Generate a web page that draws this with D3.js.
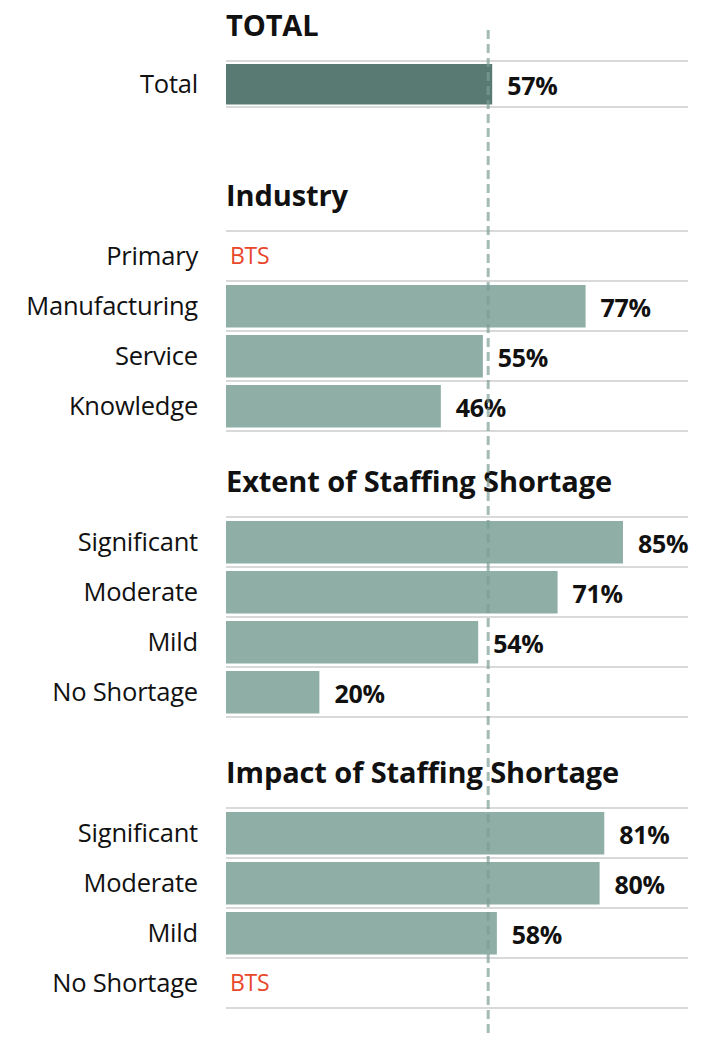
<!DOCTYPE html>
<html>
<head>
<meta charset="utf-8">
<script src="https://cdn.jsdelivr.net/npm/d3@7"></script>
<style>
  html, body { margin: 0; padding: 0; background: #fff; }
  svg { display: block; font-family: "Open Sans", "Noto Sans", sans-serif; }
</style>
</head>
<body>
<svg id="chart" width="705" height="1038"></svg>
<script>
// data
const totalCats = ['Total']
const totalVals = [57]

const industryCats = ['Primary', 'Manufacturing', 'Service', 'Knowledge']
const industryVals = [null, 77, 55, 46]

const extentCats = ['Significant', 'Moderate', 'Mild', 'No Shortage']
const extentVals = [85, 71, 54, 20]

const impactCats = ['Significant', 'Moderate', 'Mild', 'No Shortage']
const impactVals = [81, 80, 58, null]

const sectionTitles = ['TOTAL', 'Industry', 'Extent of Staffing Shortage', 'Impact of Staffing Shortage']
const benchmark = 57 // dashed line = total

const sections = [
  {title: sectionTitles[0], cats: totalCats, vals: totalVals, top: 61, rowH: 46, dark: true},
  {title: sectionTitles[1], cats: industryCats, vals: industryVals, top: 231, rowH: 50},
  {title: sectionTitles[2], cats: extentCats, vals: extentVals, top: 517, rowH: 50},
  {title: sectionTitles[3], cats: impactCats, vals: impactVals, top: 808, rowH: 50}
]

const svg = d3.select('#chart')
const x = d3.scaleLinear().domain([0, 100]).range([226, 693])
const gridRight = 688

sections.forEach(sec => {
    const y = d3.scaleBand()
        .domain(sec.cats)
        .range([sec.top, sec.top + sec.rowH * sec.cats.length])
        .paddingInner(0).paddingOuter(0)
    const g = svg.append('g')

    // title
    g.append('text')
        .attr('x', 226)
        .attr('y', sec.top - 25)
        .attr('font-size', 29)
        .attr('font-weight', 700)
        .attr('fill', '#111')
        .attr('letter-spacing', '-0.1')
        .text(sec.title)

    // gridlines
    const edges = sec.cats.map(c => y(c)).concat([y.range()[1]])
    g.selectAll('.grid').data(edges).enter().append('line')
        .attr('x1', 226).attr('x2', gridRight)
        .attr('y1', d => d).attr('y2', d => d)
        .attr('stroke', '#d9d9d9').attr('stroke-width', 2)

    const rows = sec.cats.map((c, i) => ({cat: c, val: sec.vals[i]}))
    const inset = sec.dark ? 3 : 4

    g.selectAll('.bar').data(rows.filter(r => r.val != null)).enter().append('rect')
        .attr('x', x(0))
        .attr('y', d => y(d.cat) + inset)
        .attr('width', d => x(d.val) - x(0))
        .attr('height', y.bandwidth() - inset * 2 + 0.5)
        .attr('fill', sec.dark ? '#587a72' : '#8eaea6')

    // category labels
    g.selectAll('.lab').data(rows).enter().append('text')
        .attr('x', 198)
        .attr('y', d => y(d.cat) + y.bandwidth() / 2)
        .attr('dy', '0.35em')
        .attr('text-anchor', 'end')
        .attr('font-size', 25.5)
        .attr('fill', '#111')
        .attr('letter-spacing', '-0.2')
        .text(d => d.cat)

    // value labels
    g.selectAll('.val').data(rows).enter().append('text')
        .attr('x', d => d.val == null ? 230 : x(d.val) + 15)
        .attr('y', d => y(d.cat) + y.bandwidth() / 2 + (d.val == null ? 0 : 2))
        .attr('dy', '0.35em')
        .attr('font-size', d => d.val == null ? 23 : 25)
        .attr('font-weight', d => d.val == null ? 400 : 700)
        .attr('fill', d => d.val == null ? '#e8472a' : '#111')
        .attr('letter-spacing', '-0.3')
        .text(d => d.val == null ? 'BTS' : d.val + '%')
})

// benchmark dashed line
svg.append('line')
    .attr('x1', x(benchmark) - 4).attr('x2', x(benchmark) - 4)
    .attr('y1', 30).attr('y2', 1036)
    .attr('stroke', '#7e9e96')
    .attr('stroke-opacity', 0.7)
    .attr('stroke-width', 3)
    .attr('stroke-dasharray', '9,5')
</script>
</body>
</html>
